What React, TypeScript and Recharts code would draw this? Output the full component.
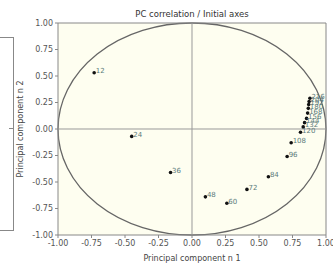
import { ScatterChart, Scatter, XAxis, YAxis, ReferenceLine, ReferenceArea, LabelList } from 'recharts'

// sample labels, PC1 and PC2 correlations
const names = ['12', '24', '36', '48', '60', '72', '84', '96', '108', '120', '132', '144', '156', '168', '180', '192', '204', '216']
const pc1 = [-0.73, -0.45, -0.16, 0.1, 0.26, 0.41, 0.57, 0.71, 0.74, 0.81, 0.83, 0.84, 0.855, 0.863, 0.868, 0.871, 0.874, 0.88]
const pc2 = [0.53, -0.07, -0.41, -0.64, -0.7, -0.57, -0.45, -0.26, -0.13, -0.03, 0.02, 0.06, 0.1, 0.15, 0.195, 0.23, 0.26, 0.29]
const ticks = [-1, -0.75, -0.5, -0.25, 0, 0.25, 0.5, 0.75, 1]

const points = names.map((n, i) => ({ name: n, x: pc1[i], y: pc2[i] }))

const tickStyle = { fill: '#555', fontSize: 8, fontFamily: 'DejaVu Sans' }

function Dot({ cx, cy }: any) {
  return <circle cx={cx} cy={cy} r={1.8} fill="#111" />
}

function PointLabel({ x, y, width, height, value }: any) {
  const cx = x + (width || 0) / 2
  const cy = y + (height || 0) / 2
  return (
    <text x={cx + 1.5} y={cy + 0.5} fill="#5b7b7b" fontSize={7} fontFamily="DejaVu Sans">
      {value}
    </text>
  )
}

function UnitCircle({ x, y, width, height }: any) {
  return (
    <ellipse
      cx={x + width / 2}
      cy={y + height / 2}
      rx={Math.abs(width) / 2}
      ry={Math.abs(height) / 2}
      fill="none"
      stroke="#666"
      strokeWidth={1.3}
    />
  )
}

export default function App() {
  return (
    <div style={{ position: 'fixed', left: 0, top: 0, width: 333, height: 267, background: '#fff', fontFamily: 'DejaVu Sans' }}>
      {/* edge of neighbouring panel */}
      <div style={{ position: 'absolute', left: -20, top: 37, width: 32, height: 192, border: '1px solid #888' }} />
      <div style={{ position: 'absolute', left: 9, top: 128, width: 4, height: 1, background: '#888' }} />
      <div style={{ position: 'absolute', left: 0, top: 9, width: 384, textAlign: 'center', fontSize: 8.5, color: '#333' }}>
        PC correlation / Initial axes
      </div>
      <ScatterChart width={333} height={267} margin={{ top: 23, right: 7, left: 0, bottom: 0 }}>
        <rect x={58} y={23} width={268} height={212} fill="#fefef0" />
        <XAxis
          type="number"
          dataKey="x"
          domain={[-1, 1]}
          ticks={ticks}
          tickFormatter={(v) => v.toFixed(2)}
          tick={tickStyle}
          tickSize={3}
          stroke="#888"
          height={32}
          interval={0}
          label={{ value: 'Principal component n 1', position: 'insideBottom', offset: 6, fontSize: 8, fill: '#444' }}
        />
        <YAxis
          type="number"
          dataKey="y"
          domain={[-1, 1]}
          ticks={ticks}
          tickFormatter={(v) => v.toFixed(2)}
          tick={tickStyle}
          tickSize={3}
          stroke="#888"
          width={58}
          interval={0}
          label={{ value: 'Principal component n 2', angle: -90, position: 'insideLeft', offset: 20, fontSize: 8, fill: '#444', style: { textAnchor: 'middle' } }}
        />
        <ReferenceArea x1={-1} x2={1} y1={-1} y2={1} fill="none" stroke="none" shape={<UnitCircle />} />
        <ReferenceLine x={0} stroke="#999" strokeWidth={1} />
        <ReferenceLine y={0} stroke="#999" strokeWidth={1} />
        <ReferenceLine x={1} stroke="#888" />
        <ReferenceLine y={1} stroke="#888" />
        <Scatter data={points} fill="#111" shape={<Dot />} isAnimationActive={false}>
          <LabelList dataKey="name" content={<PointLabel />} />
        </Scatter>
      </ScatterChart>
    </div>
  )
}
